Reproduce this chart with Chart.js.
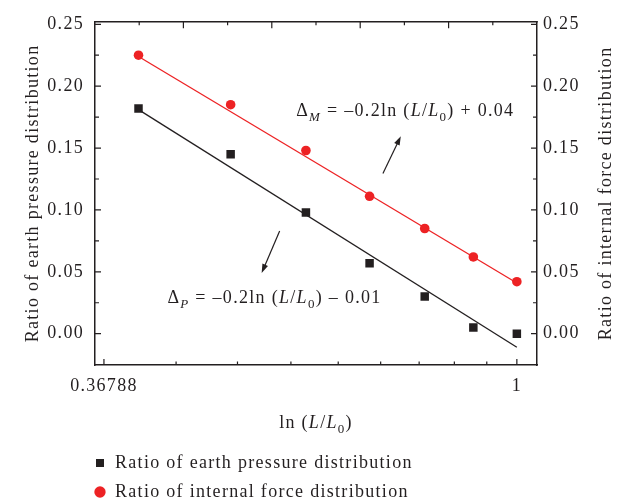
<!DOCTYPE html>
<html>
<head>
<meta charset="utf-8">
<script src="https://cdn.jsdelivr.net/npm/chart.js@4.4.0/dist/chart.umd.min.js"></script>
<style>
  html, body { margin: 0; padding: 0; background: #fff; }
</style>
</head>
<body>
<canvas id="chart" width="629" height="504"></canvas>
<script>
// L/L0 of the test cases and the two measured ratios
const ratios = [0.4, 0.5, 0.6, 0.7, 0.8, 0.9, 1.0];
const earthPressure = [0.182, 0.145, 0.098, 0.057, 0.030, 0.005, 0.000];
const internalForce = [0.225, 0.185, 0.148, 0.111, 0.085, 0.062, 0.042];

// fitted lines, end points
const fitX = [0.4, 1.0];
const fitEarth = [0.181, -0.011];
const fitForce = [0.224, 0.041];

// axis ticks
const xTicks = [0.36788, 0.43811, 0.50835, 0.57858, 0.64881, 0.71905, 0.78928, 0.85952, 0.92976, 1];
const xTickLabels = ['0.36788', '', '', '', '', '', '', '', '', '1'];
const yTicks = [0, 0.05, 0.10, 0.15, 0.20, 0.25];
const yMinorTicks = [0.025, 0.075, 0.125, 0.175, 0.225];

const seriesNames = ['Ratio of earth pressure distribution', 'Ratio of internal force distribution'];

const ink = '#231f20';
const red = '#ed2224';
const serif = "'Liberation Serif', 'Times New Roman', serif";
const fontSize = 18;
const spacing = '1.3px'; // Times is narrower than the original serif

// equation labels (x in L/L0, y in ratio) and the arrows pointing at the lines
const equations = [
    { x: 0.586, y: 0.1762, parts: [['Δ', 'n'], ['M', 'isub'], [' = –0.2ln (', 'n'], ['L', 'i'], ['/', 'n'], ['L', 'i'], ['0', 'sub'], [') + 0.04', 'n']] },
    { x: 0.429, y: 0.0245, parts: [['Δ', 'n'], ['P', 'isub'], [' = –0.2ln (', 'n'], ['L', 'i'], ['/', 'n'], ['L', 'i'], ['0', 'sub'], [') – 0.01', 'n']] }
];
const arrows = [
    { from: [0.723, 0.1295], to: [0.755, 0.1596] },
    { from: [0.563, 0.0829], to: [0.539, 0.049] }
];

function partFont(style) {
    const small = style === 'sub' || style === 'isub';
    const italic = style === 'i' || style === 'isub';
    return (italic ? 'italic ' : '') + (small ? Math.round(fontSize * 0.72) : fontSize) + 'px ' + serif;
}

function drawRich(ctx, parts, x, y, align) {
    let w = 0;
    parts.forEach(p => { ctx.font = partFont(p[1]); w += ctx.measureText(p[0]).width; });
    let cx = align === 'center' ? x - w / 2 : x;
    ctx.textAlign = 'left';
    ctx.textBaseline = 'alphabetic';
    parts.forEach(p => {
        ctx.font = partFont(p[1]);
        const dy = (p[1] === 'sub' || p[1] === 'isub') ? fontSize * 0.28 : 0;
        ctx.fillText(p[0], cx, y + dy);
        cx += ctx.measureText(p[0]).width;
    });
}

function drawArrow(ctx, x1, y1, x2, y2) {
    const a = Math.atan2(y2 - y1, x2 - x1);
    const len = 9, half = 3;
    ctx.beginPath();
    ctx.moveTo(x1, y1);
    ctx.lineTo(x2 - Math.cos(a) * len * 0.8, y2 - Math.sin(a) * len * 0.8);
    ctx.stroke();
    ctx.beginPath();
    ctx.moveTo(x2, y2);
    ctx.lineTo(x2 - Math.cos(a) * len - Math.sin(a) * half, y2 - Math.sin(a) * len + Math.cos(a) * half);
    ctx.lineTo(x2 - Math.cos(a) * len + Math.sin(a) * half, y2 - Math.sin(a) * len - Math.cos(a) * half);
    ctx.closePath();
    ctx.fill();
}

function setSpacing(chart) {
    if ('letterSpacing' in chart.ctx) chart.ctx.letterSpacing = spacing;
}

// inward ticks, top frame line, equations, right title and x title
const decorations = {
    id: 'decorations',
    beforeUpdate: setSpacing,
    beforeLayout: setSpacing,
    beforeDraw: setSpacing,
    afterLayout(chart) {
        const lg = chart.legend;
        if (lg) {
            lg.left -= 12; lg.right -= 12;
            lg.top += 7; lg.bottom += 7;
        }
    },
    afterDraw(chart) {
        const { ctx, chartArea: a, scales } = chart;
        const xs = scales.x, ys = scales.y;
        ctx.save();
        ctx.strokeStyle = ink;
        ctx.fillStyle = ink;

        // top frame
        ctx.lineWidth = 1.5;
        ctx.beginPath();
        ctx.moveTo(a.left - 0.75, a.top);
        ctx.lineTo(a.right + 0.75, a.top);
        ctx.stroke();

        ctx.lineWidth = 1.2;
        ctx.beginPath();
        // bottom ticks
        xTicks.forEach((v, i) => {
            const px = xs.getPixelForValue(v);
            const len = xTickLabels[i] ? 6 : 3.5;
            ctx.moveTo(px, a.bottom); ctx.lineTo(px, a.bottom - len);
        });
        // top ticks
        for (let k = 1; k < 10; k++) {
            const px = a.left + (a.right - a.left) * k / 10;
            const len = k % 2 === 0 ? 6.5 : 3.5;
            ctx.moveTo(px, a.top); ctx.lineTo(px, a.top + len);
        }
        // left and right ticks
        yTicks.concat(yMinorTicks).forEach(v => {
            const py = ys.getPixelForValue(v);
            const len = yTicks.includes(v) ? 6 : 4;
            ctx.moveTo(a.left, py); ctx.lineTo(a.left + len, py);
            ctx.moveTo(a.right, py); ctx.lineTo(a.right - len, py);
        });
        ctx.stroke();

        // equations and arrows
        equations.forEach(eq => {
            drawRich(ctx, eq.parts, xs.getPixelForValue(eq.x), ys.getPixelForValue(eq.y), 'left');
        });
        ctx.lineWidth = 1.2;
        arrows.forEach(ar => {
            drawArrow(ctx,
                xs.getPixelForValue(ar.from[0]), ys.getPixelForValue(ar.from[1]),
                xs.getPixelForValue(ar.to[0]), ys.getPixelForValue(ar.to[1]));
        });

        // x axis title
        drawRich(ctx, [['ln (', 'n'], ['L', 'i'], ['/', 'n'], ['L', 'i'], ['0', 'sub'], [')', 'n']],
            (a.left + a.right) / 2, 428, 'center');

        // right axis title, reading upwards
        ctx.translate(606, (a.top + a.bottom) / 2);
        ctx.rotate(-Math.PI / 2);
        ctx.font = fontSize + 'px ' + serif;
        ctx.textAlign = 'center';
        ctx.textBaseline = 'middle';
        ctx.fillText(seriesNames[1], 0, 0);
        ctx.restore();
    }
};

const tickFont = { family: serif, size: fontSize };

new Chart(document.getElementById('chart'), {
    type: 'line',
    data: {
        datasets: [{
            label: seriesNames[0],
            data: ratios.map((r, i) => ({ x: r, y: earthPressure[i] })),
            showLine: false,
            pointStyle: 'rect',
            pointRadius: 6,
            pointBackgroundColor: ink,
            pointBorderColor: ink,
            pointBorderWidth: 0,
            backgroundColor: ink,
            borderColor: ink
        }, {
            label: seriesNames[1],
            data: ratios.map((r, i) => ({ x: r, y: internalForce[i] })),
            showLine: false,
            pointStyle: 'circle',
            pointRadius: 4.8,
            pointBackgroundColor: red,
            pointBorderColor: red,
            pointBorderWidth: 0,
            backgroundColor: red,
            borderColor: red
        }, {
            label: 'fit P',
            data: fitX.map((r, i) => ({ x: r, y: fitEarth[i] })),
            borderColor: ink,
            borderWidth: 1.3,
            pointRadius: 0
        }, {
            label: 'fit M',
            data: fitX.map((r, i) => ({ x: r, y: fitForce[i] })),
            borderColor: red,
            borderWidth: 1.3,
            pointRadius: 0
        }]
    },
    options: {
        responsive: false,
        animation: false,
        layout: { padding: { top: 14, left: 0, right: 0, bottom: 0 } },
        plugins: {
            tooltip: { enabled: false },
            legend: {
                position: 'bottom',
                align: 'start',
                fullSize: false,
                labels: {
                    usePointStyle: true,
                    boxWidth: 12,
                    boxHeight: 8,
                    padding: 11,
                    color: ink,
                    font: tickFont,
                    filter: item => item.datasetIndex < 2
                }
            }
        },
        scales: {
            x: {
                type: 'logarithmic',
                min: 0.36,
                max: 1.05,
                afterFit: s => { s.height = 71; },
                afterBuildTicks: s => { s.ticks = xTicks.map(v => ({ value: v })); },
                grid: { display: false, drawTicks: false },
                border: { display: true, color: ink, width: 1.5 },
                ticks: {
                    autoSkip: false,
                    maxRotation: 0,
                    padding: 10,
                    color: ink,
                    font: tickFont,
                    callback: (v, i) => xTickLabels[i]
                }
            },
            y: {
                position: 'left',
                min: -0.0253,
                max: 0.252,
                afterFit: s => { s.width = 95; },
                afterBuildTicks: s => { s.ticks = yTicks.map(v => ({ value: v })); },
                grid: { display: false, drawTicks: false },
                border: { display: true, color: ink, width: 1.5 },
                ticks: { padding: 11, color: ink, font: tickFont, callback: v => v.toFixed(2) },
                title: {
                    display: true,
                    text: seriesNames[0],
                    color: ink,
                    font: tickFont,
                    padding: { top: 22, bottom: 0 }
                }
            },
            y2: {
                position: 'right',
                min: -0.0253,
                max: 0.252,
                afterFit: s => { s.width = 92; },
                afterBuildTicks: s => { s.ticks = yTicks.map(v => ({ value: v })); },
                grid: { display: false, drawTicks: false },
                border: { display: true, color: ink, width: 1.5 },
                ticks: { padding: 6, color: ink, font: tickFont, callback: v => v.toFixed(2) }
            }
        }
    },
    plugins: [decorations]
});
</script>
</body>
</html>
